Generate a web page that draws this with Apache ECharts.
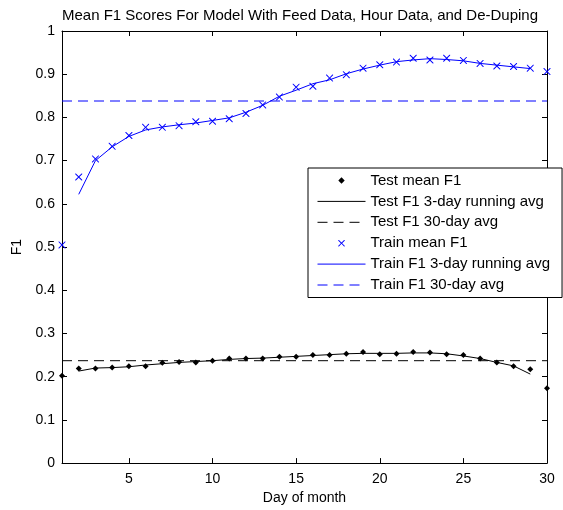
<!DOCTYPE html>
<html>
<head>
<meta charset="utf-8">
<script src="https://cdn.jsdelivr.net/npm/echarts@6/dist/echarts.min.js"></script>
<style>html,body{margin:0;padding:0;background:#fff;}#c{width:563px;height:510px;}</style>
</head>
<body>
<div id="c"></div>
<script>
const days = [1,2,3,4,5,6,7,8,9,10,11,12,13,14,15,16,17,18,19,20,21,22,23,24,25,26,27,28,29,30];
const testMean = [0.202,0.219,0.219,0.221,0.224,0.224,0.232,0.234,0.233,0.237,0.242,0.242,0.242,0.246,0.246,0.250,0.250,0.253,0.257,0.252,0.253,0.257,0.256,0.252,0.250,0.242,0.233,0.224,0.217,0.173];
// running averages, days 2..29
const testRunning = [0.213,0.220,0.221,0.223,0.227,0.230,0.233,0.235,0.237,0.240,0.242,0.243,0.245,0.247,0.249,0.251,0.253,0.254,0.254,0.254,0.255,0.255,0.253,0.248,0.242,0.233,0.225,0.206];
const testAvg30 = 0.237;
const trainMean = [0.505,0.662,0.704,0.733,0.758,0.777,0.777,0.781,0.790,0.791,0.797,0.809,0.829,0.847,0.870,0.872,0.891,0.899,0.914,0.922,0.928,0.937,0.933,0.937,0.932,0.925,0.919,0.918,0.914,0.906];
const trainRunning = [0.622,0.700,0.732,0.756,0.771,0.778,0.783,0.787,0.793,0.799,0.812,0.828,0.849,0.863,0.878,0.887,0.901,0.912,0.921,0.929,0.933,0.936,0.934,0.931,0.925,0.921,0.917,0.913];
const trainAvg30 = 0.838;
const xTicks = [5,10,15,20,25,30];
const seriesNames = ['Test mean F1','Test F1 3-day running avg','Test F1 30-day avg','Train mean F1','Train F1 3-day running avg','Train F1 30-day avg'];

const runDays = days.slice(1, 29);
const pairs = (xs, ys) => xs.map((x, i) => [x, ys[i]]);
const FONT = '"Liberation Sans", Arial, Helvetica, sans-serif';
const xPath = 'path://M0,0L1,0L5,4L9,0L10,0L10,1L6,5L10,9L10,10L9,10L5,6L1,10L0,10L0,9L4,5L0,1Z';
const BLUE = '#0000ff', BLACK = '#000000';

const axisCommon = {
  axisLine: {show: true, onZero: false, lineStyle: {color: BLACK, width: 1}},
  axisTick: {show: true, inside: true, length: 5, lineStyle: {color: BLACK, width: 1}},
  splitLine: {show: false}
};

const chart = echarts.init(document.getElementById('c'), null, {renderer: 'canvas'});
chart.setOption({
  animation: false,
  backgroundColor: '#ffffff',
  title: {
    text: 'Mean F1 Scores For Model With Feed Data, Hour Data, and De-Duping',
    left: 62, top: 8, padding: 0,
    textStyle: {fontFamily: FONT, fontSize: 15, fontWeight: 'normal', color: BLACK}
  },
  grid: {left: 62, top: 31, right: 16, bottom: 45},
  xAxis: [
    Object.assign({}, axisCommon, {
      type: 'value', min: 1, max: 30, position: 'bottom',
      axisTick: Object.assign({}, axisCommon.axisTick, {customValues: xTicks}),
      axisLabel: {customValues: xTicks, margin: 9, fontFamily: FONT, fontSize: 14, color: BLACK},
      name: 'Day of month', nameLocation: 'middle', nameGap: 25,
      nameTextStyle: {fontFamily: FONT, fontSize: 14, color: BLACK}
    }),
    Object.assign({}, axisCommon, {
      type: 'value', min: 1, max: 30, position: 'top',
      axisTick: Object.assign({}, axisCommon.axisTick, {customValues: xTicks}),
      axisLabel: {show: false}
    })
  ],
  yAxis: [
    Object.assign({}, axisCommon, {
      type: 'value', min: 0, max: 1, interval: 0.1, position: 'left',
      axisLabel: {margin: 7, fontFamily: FONT, fontSize: 14, color: BLACK},
      name: 'F1', nameLocation: 'middle', nameGap: 38,
      nameTextStyle: {fontFamily: FONT, fontSize: 14, color: BLACK}
    }),
    Object.assign({}, axisCommon, {
      type: 'value', min: 0, max: 1, interval: 0.1, position: 'right',
      axisLabel: {show: false}
    })
  ],
  legend: {
    orient: 'vertical',
    left: 308, top: 168,
    padding: [5, 12, 5, 9],
    itemWidth: 48, itemHeight: 8, itemGap: 5.9,
    backgroundColor: '#ffffff',
    borderColor: BLACK, borderWidth: 1, borderRadius: 0,
    selectedMode: false,
    lineStyle: {width: 1},
    textStyle: {fontFamily: FONT, fontSize: 15, color: BLACK, lineHeight: 15},
    data: [
      {name: seriesNames[0]},
      {name: seriesNames[1], itemStyle: {opacity: 0}},
      {name: seriesNames[2], itemStyle: {opacity: 0}},
      {name: seriesNames[3]},
      {name: seriesNames[4], itemStyle: {opacity: 0}},
      {name: seriesNames[5], itemStyle: {opacity: 0}}
    ]
  },
  series: [
    {
      name: seriesNames[0], type: 'line', data: pairs(days, testMean),
      symbol: 'diamond', symbolSize: 6, showSymbol: true, showAllSymbol: true,
      itemStyle: {color: BLACK}, lineStyle: {color: 'rgba(0,0,0,0)', width: 1}, z: 5
    },
    {
      name: seriesNames[1], type: 'line', data: pairs(runDays, testRunning),
      symbol: 'none', itemStyle: {color: BLACK}, lineStyle: {color: BLACK, width: 1}
    },
    {
      name: seriesNames[2], type: 'line', data: [[1, testAvg30], [30, testAvg30]],
      symbol: 'none', itemStyle: {color: BLACK}, lineStyle: {color: BLACK, width: 1, type: [10, 6]}
    },
    {
      name: seriesNames[3], type: 'line', data: pairs(days, trainMean),
      symbol: xPath, symbolSize: 7, showSymbol: true, showAllSymbol: true,
      itemStyle: {color: BLUE}, lineStyle: {color: 'rgba(0,0,0,0)', width: 1}, z: 5
    },
    {
      name: seriesNames[4], type: 'line', data: pairs(runDays, trainRunning),
      symbol: 'none', itemStyle: {color: BLUE}, lineStyle: {color: BLUE, width: 1}
    },
    {
      name: seriesNames[5], type: 'line', data: [[1, trainAvg30], [30, trainAvg30]],
      symbol: 'none', itemStyle: {color: BLUE}, lineStyle: {color: BLUE, width: 1, type: [10, 6]}
    }
  ]
});
</script>
</body>
</html>
